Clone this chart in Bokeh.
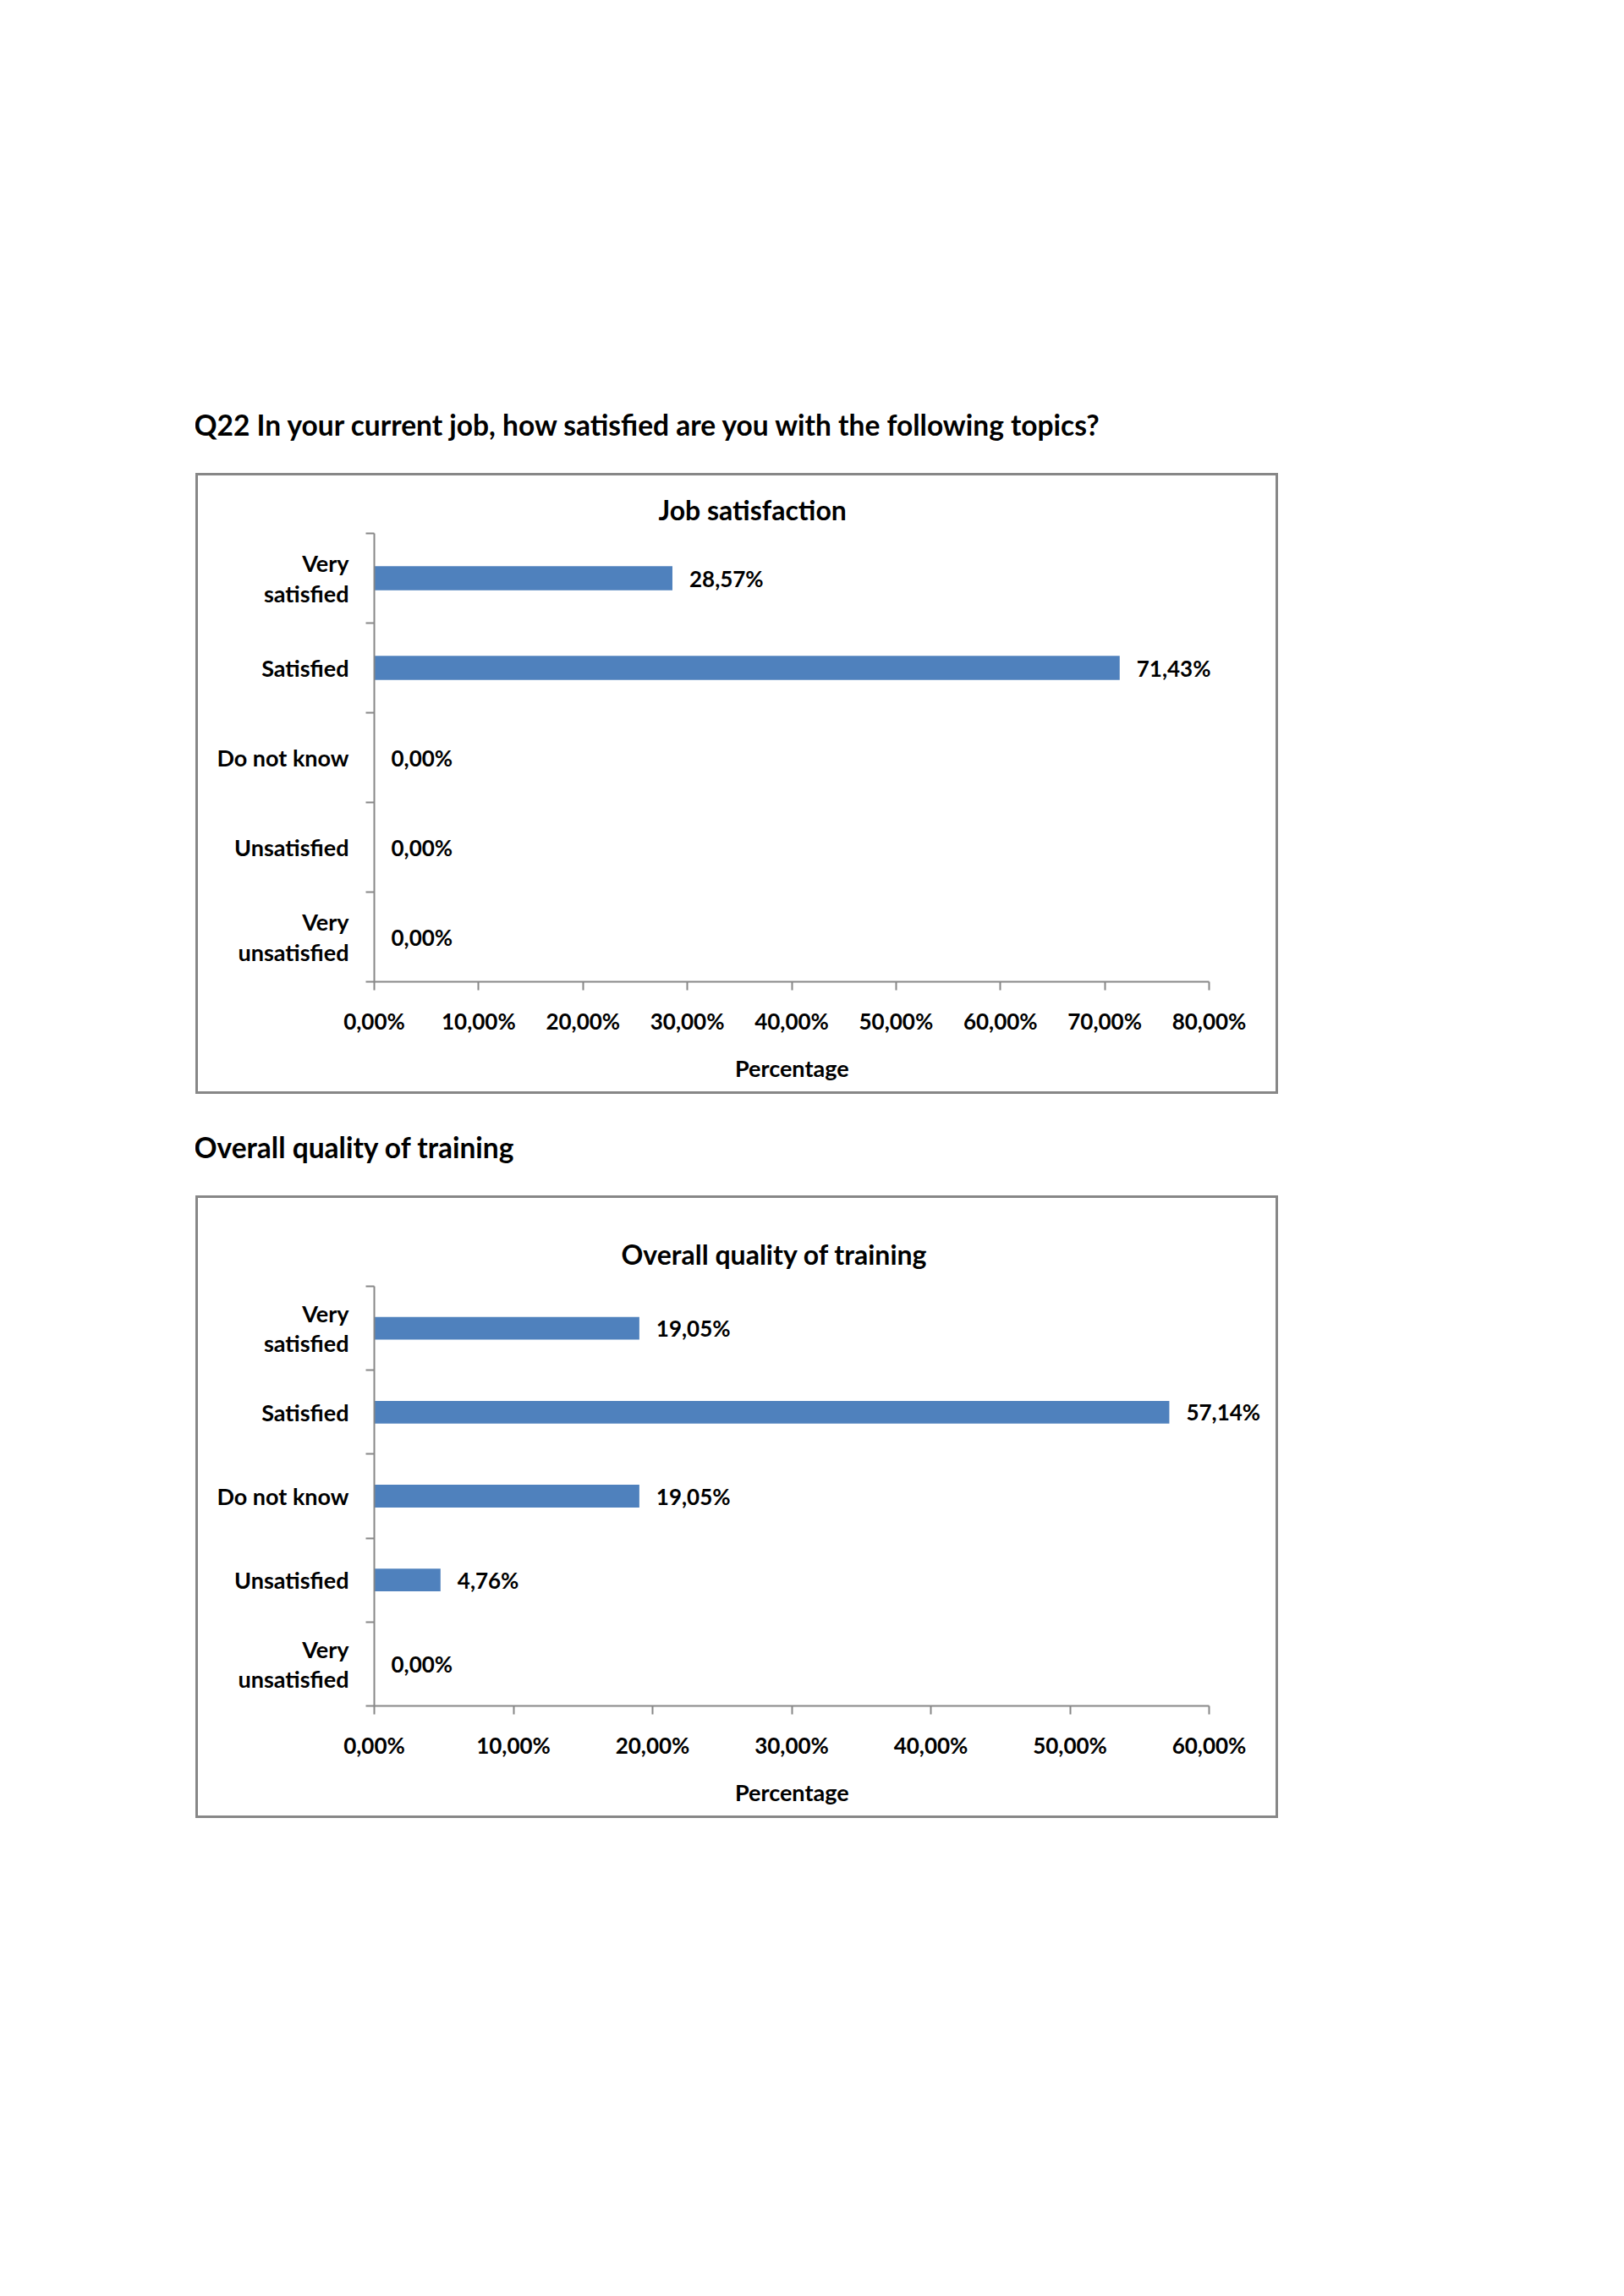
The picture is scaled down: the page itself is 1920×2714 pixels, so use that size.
from bokeh.plotting import figure
from bokeh.models import Range1d, FixedTicker, Spacer, ColumnDataSource, LabelSet, Title
from bokeh.layouts import column, row
from bokeh.core.properties import value
from bokeh.embed import file_html
from bokeh.resources import INLINE

# ---------------- data ----------------
page_title = "Q22 In your current job, how satisfied are you with the following topics?"
section2_heading = "Overall quality of training"
chart1_title = "Job satisfaction"
chart2_title = "Overall quality of training"
x_title = "Percentage"

categories = ["Very satisfied", "Satisfied", "Do not know", "Unsatisfied", "Very unsatisfied"]
category_labels = ["Very\nsatisfied", "Satisfied", "Do not know", "Unsatisfied", "Very\nunsatisfied"]

job_values = [28.57, 71.43, 0.00, 0.00, 0.00]
training_values = [19.05, 57.14, 19.05, 4.76, 0.00]

job_ticks = [0, 10, 20, 30, 40, 50, 60, 70, 80]
training_ticks = [0, 10, 20, 30, 40, 50, 60]

# ---------------- style ----------------
FONT = "Lato"
BAR = "#4F81BD"
GREY = "#878787"
CAT_SIZE = "27px"
TICK_SIZE = "26px"
TITLE_SIZE = "32px"
HEAD_SIZE = "33.5px"
BOX_W = 1280
FRAME_LEFT = 208
AXIS_PX = 987.0      # pixel length of the drawn value axis
FRAME_PX = 1065.0    # frame is a bit wider so that value labels are not clipped
XLABEL_W = 134       # approx. rendered width of the axis title


def pct(v):
    return f"{v:.2f}%".replace(".", ",")


def make_heading(text, h):
    p = figure(width=BOX_W, height=h, toolbar_location=None, output_backend="svg",
               x_range=Range1d(0, 1), y_range=Range1d(0, 1), min_border=0,
               x_axis_location=None, y_axis_location=None)
    p.grid.visible = False
    p.outline_line_color = None
    p.title.text = text
    p.title.align = "left"
    p.title.text_font = FONT
    p.title.text_font_size = HEAD_SIZE
    p.title.text_font_style = "bold"
    p.title.text_color = "black"
    # column aligns this frame with the chart frames below; shift back to the box edge
    p.title.offset = -(FRAME_LEFT + 2)
    return p


def make_chart(title, values, ticks, h, top, title_offset, title_standoff):
    n = len(categories)
    pos = [n - i for i in range(n)]
    axis_max = ticks[-1]
    x_end = axis_max * FRAME_PX / AXIS_PX
    p = figure(width=BOX_W, height=h, toolbar_location=None, output_backend="svg",
               x_range=Range1d(0, x_end), y_range=Range1d(0.5, n + 0.5),
               min_border_left=FRAME_LEFT, min_border_right=BOX_W - FRAME_LEFT - int(FRAME_PX),
               min_border_top=top, min_border_bottom=131,
               styles={"border": f"3px solid {GREY}"})
    p.grid.visible = False
    p.outline_line_color = None
    p.background_fill_color = "white"

    src = ColumnDataSource(dict(pos=pos, val=values, lab=[pct(v) for v in values], cat=categories))
    p.hbar(y="pos", right="val", left=0, height=0.27, source=src,
           fill_color=BAR, line_color=None)
    labels = LabelSet(x="val", y="pos", text="lab", source=src, x_offset=20,
                      text_align="left", text_baseline="middle",
                      text_font=value(FONT), text_font_size=value(TICK_SIZE),
                      text_font_style="bold", text_color="black")
    p.add_layout(labels)

    xa = p.xaxis[0]
    xa.ticker = FixedTicker(ticks=ticks, minor_ticks=[])
    xa.bounds = (0, axis_max)
    xa.major_label_overrides = {t: pct(t) for t in ticks}
    xa.axis_line_color = GREY
    xa.axis_line_width = 2
    xa.major_tick_line_color = GREY
    xa.major_tick_line_width = 2
    xa.major_tick_out = 10
    xa.major_tick_in = 0
    xa.minor_tick_line_color = None
    xa.major_label_text_font = FONT
    xa.major_label_text_font_size = TICK_SIZE
    xa.major_label_text_font_style = "bold"
    xa.major_label_text_color = "black"
    xa.major_label_standoff = 20

    # axis title, centred under the drawn axis (not the wider frame)
    xt = Title(text=x_title, align="left", offset=AXIS_PX / 2 - XLABEL_W / 2,
               text_font=FONT, text_font_size=CAT_SIZE, text_font_style="bold",
               text_color="black", standoff=36)
    p.add_layout(xt, "below")

    ya = p.yaxis[0]
    ya.ticker = FixedTicker(ticks=pos, minor_ticks=[k + 0.5 for k in range(n + 1)])
    ya.major_label_overrides = {pp: lab for pp, lab in zip(pos, category_labels)}
    ya.axis_line_color = GREY
    ya.axis_line_width = 2
    ya.major_tick_line_color = None
    ya.major_tick_out = 0
    ya.major_tick_in = 0
    ya.minor_tick_line_color = GREY
    ya.minor_tick_line_width = 2
    ya.minor_tick_out = 10
    ya.minor_tick_in = 0
    ya.major_label_text_font = FONT
    ya.major_label_text_font_size = CAT_SIZE
    ya.major_label_text_font_style = "bold"
    ya.major_label_text_color = "black"
    ya.major_label_text_line_height = 1.08
    ya.major_label_standoff = 20

    p.title.text = title
    p.title.align = "left"
    p.title.text_font = FONT
    p.title.text_font_size = TITLE_SIZE
    p.title.text_font_style = "bold"
    p.title.text_color = "black"
    p.title.offset = title_offset
    p.title.standoff = title_standoff
    return p


head1 = make_heading(page_title, 85)
chart1 = make_chart(chart1_title, job_values, job_ticks, 734, 68, 336, 18)
head2 = make_heading(section2_heading, 80)
chart2 = make_chart(chart2_title, training_values, training_ticks, 736, 104, 292, 38)

col = column(Spacer(height=474), head1, chart1, Spacer(height=35), head2, Spacer(height=5), chart2)
layout = row(Spacer(width=231), col)

open("out.html", "w").write(file_html(layout, INLINE))
